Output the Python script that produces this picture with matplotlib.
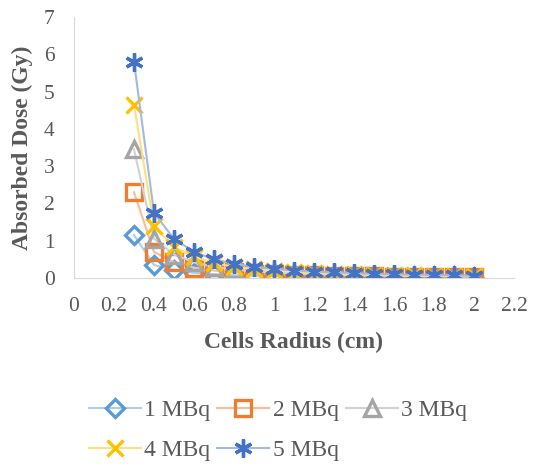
import matplotlib
matplotlib.use("Agg")
import matplotlib.pyplot as plt
from matplotlib.colors import to_rgb

radius = [0.3, 0.4, 0.5, 0.6, 0.7, 0.8, 0.9, 1.0, 1.1, 1.2, 1.3, 1.4, 1.5, 1.6, 1.7, 1.8, 1.9, 2.0]

dose_1 = [1.15, 0.35, 0.21, 0.14, 0.10, 0.076, 0.06, 0.05, 0.04, 0.034, 0.03, 0.026, 0.022, 0.02, 0.018, 0.016, 0.014, 0.012]
dose_2 = [2.30, 0.70, 0.42, 0.28, 0.20, 0.15, 0.12, 0.10, 0.08, 0.07, 0.06, 0.05, 0.045, 0.04, 0.036, 0.032, 0.028, 0.024]
dose_3 = [3.45, 1.05, 0.63, 0.42, 0.30, 0.23, 0.18, 0.15, 0.12, 0.10, 0.09, 0.08, 0.066, 0.06, 0.054, 0.048, 0.042, 0.036]
dose_4 = [4.65, 1.40, 0.84, 0.56, 0.40, 0.30, 0.24, 0.20, 0.16, 0.14, 0.12, 0.10, 0.09, 0.08, 0.072, 0.064, 0.056, 0.048]
dose_5 = [5.80, 1.75, 1.05, 0.70, 0.50, 0.38, 0.30, 0.25, 0.20, 0.17, 0.15, 0.13, 0.11, 0.10, 0.09, 0.08, 0.07, 0.06]

labels = ["1 MBq", "2 MBq", "3 MBq", "4 MBq", "5 MBq"]


def lighten(c, f=0.5):
    r, g, b = to_rgb(c)
    return (r + (1 - r) * f, g + (1 - g) * f, b + (1 - b) * f)


plt.rcParams['font.family'] = ['Liberation Serif', 'DejaVu Serif']
txt = "#595959"

fig = plt.figure(figsize=(5.33, 4.65), dpi=100)
ax = fig.add_axes([74 / 533, 1 - 278 / 465, 440 / 533, 261 / 465])

styles = [
    ("#5B9BD5", "D", 9, "none"),
    ("#ED7D31", "s", 11, "none"),
    ("#A5A5A5", "^", 11, "none"),
    ("#FFC000", "x", 11, None),
    ("#4472C4", (6, 2, 0), 13, None),
]

handles = []
for d, lab, (c, m, ms, fc) in zip([dose_1, dose_2, dose_3, dose_4, dose_5], labels, styles):
    kw = dict(markerfacecolor=fc) if fc else {}
    h, = ax.plot(radius, d, color=lighten(c), lw=1.5, marker=m, ms=ms, mew=2.4,
                 markeredgecolor=c, label=lab, **kw)
    handles.append(h)

ax.set_xlim(0, 2.2)
ax.set_ylim(0, 7)
ax.set_xticks([0, 0.2, 0.4, 0.6, 0.8, 1, 1.2, 1.4, 1.6, 1.8, 2, 2.2])
ax.set_xticklabels(["0", "0.2", "0.4", "0.6", "0.8", "1", "1.2", "1.4", "1.6", "1.8", "2", "2.2"])
ax.set_yticks(range(8))
ax.tick_params(length=0, labelsize=15.5, colors=txt)
ax.tick_params(axis="x", pad=14)
ax.tick_params(axis="y", pad=14)
for s in ["top", "right"]:
    ax.spines[s].set_visible(False)
for s in ["left", "bottom"]:
    ax.spines[s].set_color("#D9D9D9")

ax.set_xlabel("Cells Radius (cm)", fontsize=17, fontweight="bold", color=txt, va="center")
ax.xaxis.set_label_coords(0.5, (278 - 342) / 261)
ax.set_ylabel("Absorbed Dose (Gy)", fontsize=17, fontweight="bold", color=txt, va="center")
ax.yaxis.set_label_coords((22 - 74) / 440, 0.5)

order = [0, 3, 1, 4, 2]
leg = fig.legend([handles[i] for i in order], [labels[i] for i in order],
                 loc="center", bbox_to_anchor=(278 / 533, 1 - 430.5 / 465),
                 ncol=3, frameon=False, fontsize=17, handlelength=2.2, labelspacing=0.8,
                 columnspacing=0.3, handletextpad=0.15, borderpad=0)
for t in leg.get_texts():
    t.set_color(txt)

fig.savefig("out.png", dpi=100)
